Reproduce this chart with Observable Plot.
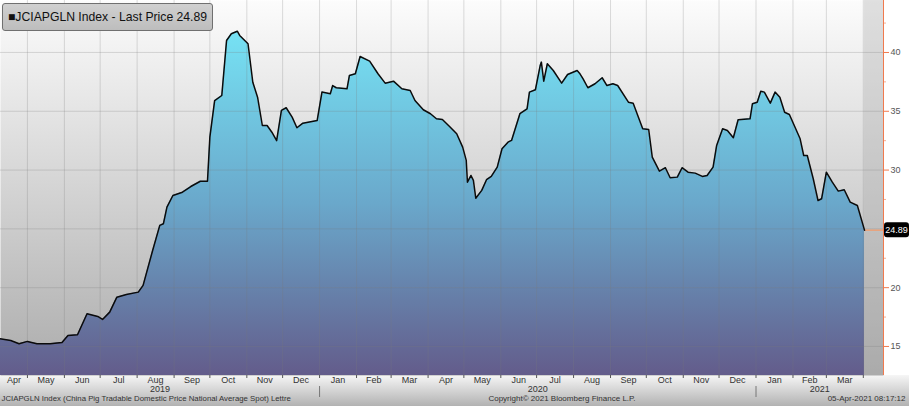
<!DOCTYPE html>
<html><head><meta charset="utf-8">
<script src="https://cdn.jsdelivr.net/npm/d3@7"></script>
<script src="https://cdn.jsdelivr.net/npm/@observablehq/plot@0.6"></script>
<style>
html,body{margin:0;padding:0;background:#fff;}
#wrap{position:relative;width:909px;height:406px;overflow:hidden;font-family:"Liberation Sans",Arial,sans-serif;}
#legend{position:absolute;left:2px;top:3px;width:211px;height:28px;box-sizing:border-box;border:1px solid #707070;border-radius:3px;background:linear-gradient(#d0d0d0,#bdbdbd);font-size:12.2px;line-height:26px;padding-left:5px;color:#111;white-space:nowrap;}
</style></head><body><div id="wrap"><div id="legend"></div></div>
<script>
const seriesName = "JCIAPGLN Index";
const fieldName = "Last Price";
const footerLeft = "JCIAPGLN Index (China Pig Tradable Domestic Price National Average Spot) Lettre";
const footerMid = "Copyright\u00A9 2021 Bloomberg Finance L.P.";
const footerRight = "05-Apr-2021 08:17:12";
const monthLabels = ["Apr","May","Jun","Jul","Aug","Sep","Oct","Nov","Dec","Jan","Feb","Mar",
                     "Apr","May","Jun","Jul","Aug","Sep","Oct","Nov","Dec","Jan","Feb","Mar"];
const yearLabels = ["2019","2020","2021"];
const yTicks = [15,20,25,30,35,40];
const yMinorTicks = [17.5,22.5,27.5,32.5,37.5,42.5];
const dates = [
"2019-04-08","2019-04-17","2019-04-24","2019-05-01","2019-05-09","2019-05-20","2019-05-30","2019-06-04","2019-06-12","2019-06-20",
"2019-06-29","2019-07-03","2019-07-09","2019-07-15","2019-07-23","2019-08-02","2019-08-06","2019-08-14","2019-08-20","2019-08-23",
"2019-08-26","2019-08-31","2019-09-08","2019-09-15","2019-09-23","2019-09-29","2019-10-01","2019-10-05","2019-10-11","2019-10-15",
"2019-10-19","2019-10-24","2019-10-26","2019-11-02","2019-11-06","2019-11-10","2019-11-14","2019-11-18","2019-11-22","2019-11-26",
"2019-11-30","2019-12-04","2019-12-09","2019-12-13","2019-12-18","2019-12-30","2020-01-03","2020-01-10","2020-01-12","2020-01-15",
"2020-01-24","2020-01-26","2020-01-31","2020-02-04","2020-02-12","2020-02-19","2020-02-25","2020-03-03","2020-03-10","2020-03-17",
"2020-03-21","2020-03-28","2020-04-03","2020-04-08","2020-04-13","2020-04-19","2020-04-25","2020-04-30","2020-05-03","2020-05-04",
"2020-05-07","2020-05-09","2020-05-11","2020-05-16","2020-05-20","2020-05-24","2020-05-29","2020-06-02","2020-06-07","2020-06-10",
"2020-06-17","2020-06-23","2020-06-25","2020-06-30","2020-07-04","2020-07-05","2020-07-07","2020-07-10","2020-07-15","2020-07-22",
"2020-07-27","2020-08-04","2020-08-06","2020-08-09","2020-08-13","2020-08-19","2020-08-25","2020-08-29","2020-09-03","2020-09-07",
"2020-09-16","2020-09-20","2020-09-28","2020-10-03","2020-10-06","2020-10-12","2020-10-17","2020-10-21","2020-10-27","2020-10-31",
"2020-11-05","2020-11-11","2020-11-17","2020-11-21","2020-11-26","2020-11-29","2020-12-04","2020-12-08","2020-12-13","2020-12-17",
"2020-12-27","2020-12-29","2021-01-02","2021-01-05","2021-01-08","2021-01-13","2021-01-17","2021-01-21","2021-01-25","2021-01-29",
"2021-02-07","2021-02-10","2021-02-13","2021-02-18","2021-02-22","2021-02-25","2021-03-01","2021-03-06","2021-03-11","2021-03-16",
"2021-03-21","2021-03-27","2021-04-02"];
const prices = [
15.65,15.51,15.23,15.43,15.23,15.23,15.34,15.93,16.00,17.78,
17.55,17.30,17.92,19.19,19.42,19.62,20.19,23.16,25.30,25.43,
26.85,27.84,28.12,28.60,29.05,29.05,32.80,35.90,36.34,41.02,
41.59,41.81,41.45,40.74,37.47,36.20,33.79,33.79,33.22,32.50,
35.07,35.30,34.50,33.60,33.99,34.22,36.63,36.49,37.19,37.00,
36.91,38.04,38.19,39.66,39.26,38.19,37.39,37.56,36.91,36.77,
35.92,35.13,34.79,34.36,34.30,33.71,33.09,31.95,30.82,28.97,
29.54,29.12,27.61,28.27,29.18,29.46,30.25,31.81,32.37,32.52,
34.79,35.21,36.63,36.83,38.89,39.18,37.56,39.04,38.47,37.39,
38.13,38.47,38.24,37.76,37.00,37.34,37.85,37.19,37.34,37.19,
35.77,35.69,33.51,33.45,31.10,29.91,30.20,29.35,29.40,30.20,
29.82,29.74,29.46,29.54,30.25,32.09,33.51,33.37,32.75,34.28,
34.36,35.64,35.77,36.71,36.63,35.69,36.63,36.20,34.92,34.73,
32.66,31.24,31.24,29.26,27.41,27.56,29.82,28.97,28.21,28.33,
27.27,26.99,24.89];

const parse = d3.utcParse("%Y-%m-%d");
const data = dates.map((d, i) => ({date: parse(d), price: prices[i]}));
const last = data[data.length - 1];
const xStart = new Date(Date.UTC(2019, 3, 8, 10));
const xEnd = new Date(Date.UTC(2021, 3, 17, 22));
const yMin = 12.53, yMax = 44.42;
const monthStarts = d3.utcMonth.range(new Date(Date.UTC(2019, 3, 1)), new Date(Date.UTC(2021, 3, 2)));
const monthMids = monthLabels.map((m, i) => new Date((Math.max(+monthStarts[i], +xStart) + +monthStarts[i + 1]) / 2));
const innerMonths = monthStarts.filter(d => d > xStart && d < xEnd);
const yearStarts = yearLabels.map(y => new Date(Date.UTC(+y, 0, 1)));
const yearMids = yearLabels.map((y, i) => {
  const a = Math.max(+yearStarts[i], +xStart);
  const b = Math.min(+new Date(Date.UTC(+y + 1, 0, 1)), +xEnd);
  return {date: new Date((a + b) / 2), label: y};
});
// tick labels hidden behind the last-price box
const labelHidden = t => Math.abs(t - last.price) < 1.2;

document.getElementById("legend").textContent = "\u25A0" + seriesName + " - " + fieldName + " " + last.price.toFixed(2);

const defs = () => {
  const d = d3.create("svg:defs");
  const a = d.append("linearGradient").attr("id", "areaGrad").attr("x1", 0).attr("x2", 0).attr("y1", 0).attr("y2", 1);
  a.append("stop").attr("offset", "0").attr("stop-color", "#76e2f4");
  a.append("stop").attr("offset", "0.5").attr("stop-color", "#6aa8cb");
  a.append("stop").attr("offset", "1").attr("stop-color", "#635c8b");
  const b = d.append("linearGradient").attr("id", "bgGrad").attr("x1", 0).attr("x2", 0).attr("y1", 0).attr("y2", 1);
  b.append("stop").attr("offset", "0").attr("stop-color", "#fcfcfc");
  b.append("stop").attr("offset", "1").attr("stop-color", "#acacac");
  const s = d.append("linearGradient").attr("id", "stripGrad").attr("x1", 0).attr("x2", 0).attr("y1", 0).attr("y2", 1);
  s.append("stop").attr("offset", "0").attr("stop-color", "#f6f6f6");
  s.append("stop").attr("offset", "1").attr("stop-color", "#b2b2b2");
  return d.node();
};

const orange = "#f07a4e";
const chart = Plot.plot({
  width: 909, height: 406,
  marginTop: 0, marginRight: 26, marginBottom: 31, marginLeft: 0,
  style: {fontFamily: "'Liberation Sans', Arial, sans-serif", background: "transparent"},
  x: {type: "utc", domain: [xStart, xEnd], axis: null},
  y: {domain: [yMin, yMax], axis: null},
  marks: [
    defs,
    Plot.frame({fill: "url(#bgGrad)", stroke: "none"}),
    Plot.rect([last], {x1: "date", x2: () => xEnd, y1: () => yMin, y2: () => yMax, fill: "#a8a8a8", fillOpacity: 0.35}),
    Plot.areaY(data, {x: "date", y1: () => yMin, y2: "price", fill: "url(#areaGrad)"}),
    Plot.gridX(innerMonths, {stroke: "#7a7a7a", strokeOpacity: 0.25}),
    Plot.gridY(yTicks, {stroke: "#7a7a7a", strokeOpacity: 0.25}),
    Plot.ruleY([last], {y: "price", x1: "date", x2: () => xEnd, stroke: "#eaa27a", strokeWidth: 1.5}),
    Plot.line(data, {x: "date", y: "price", stroke: "#0b0b0b", strokeWidth: 1.5}),
    Plot.ruleX([xEnd], {stroke: orange, strokeWidth: 1}),
    Plot.axisY(yTicks, {anchor: "right", tickSize: 5, tickPadding: 2, stroke: orange, label: null, tickFormat: () => ""}),
    Plot.axisY(yTicks.filter(t => !labelHidden(t)), {anchor: "right", tickSize: 5, tickPadding: 2, stroke: "none", fill: "#555", fontSize: 9, label: null}),
    Plot.axisY(yMinorTicks, {anchor: "right", tickSize: 2, tickFormat: () => "", stroke: orange, strokeOpacity: 0.6, label: null}),
    Plot.axisX(innerMonths, {anchor: "bottom", tickSize: 3, tickFormat: () => "", stroke: "#555", label: null}),
    Plot.axisX(yearStarts.filter(d => d > xStart), {anchor: "bottom", tickSize: 22, tickFormat: () => "", stroke: "#777", strokeDasharray: "0 11 11 50", label: null}),
    Plot.text(monthMids, {x: d => d, text: (d, i) => monthLabels[i], frameAnchor: "bottom", dy: 7, fontSize: 9, fill: "#333"}),
    Plot.text(yearMids, {x: "date", text: "label", frameAnchor: "bottom", dy: 16, fontSize: 9, fill: "#333"}),
    Plot.text([footerLeft], {text: d => d, frameAnchor: "bottom-left", dx: 1, dy: 25, textAnchor: "start", fontSize: 7.8, fill: "#333"}),
    Plot.text([footerMid], {text: d => d, frameAnchor: "bottom", dx: 120, dy: 25, fontSize: 8, fill: "#333"}),
    Plot.text([footerRight], {text: d => d, frameAnchor: "bottom-right", dx: 22, dy: 25, textAnchor: "end", fontSize: 8, fill: "#333"})
  ]
});

const svg = d3.select(chart);
// bottom axis strip background
svg.insert("rect", ":first-child")
  .attr("x", 0).attr("y", 406 - 31).attr("width", 909).attr("height", 31)
  .attr("fill", "url(#stripGrad)");
// last price label box
const yPos = chart.scale("y").apply(last.price);
const xPos = chart.scale("x").apply(xEnd);
const g = svg.append("g");
g.append("rect").attr("x", xPos + 1).attr("y", yPos - 7.5).attr("width", 25).attr("height", 15).attr("rx", 3).attr("fill", "#000");
g.append("text").attr("x", xPos + 13.5).attr("y", yPos).attr("dy", "0.35em").attr("text-anchor", "middle")
  .attr("fill", "#fff").attr("font-size", 9).attr("font-family", "'Liberation Sans', Arial, sans-serif")
  .text(last.price.toFixed(2));

chart.style.position = "absolute";
chart.style.left = "0px";
chart.style.top = "0px";
const wrap = document.getElementById("wrap");
wrap.insertBefore(chart, wrap.firstChild);
</script>
</body></html>
